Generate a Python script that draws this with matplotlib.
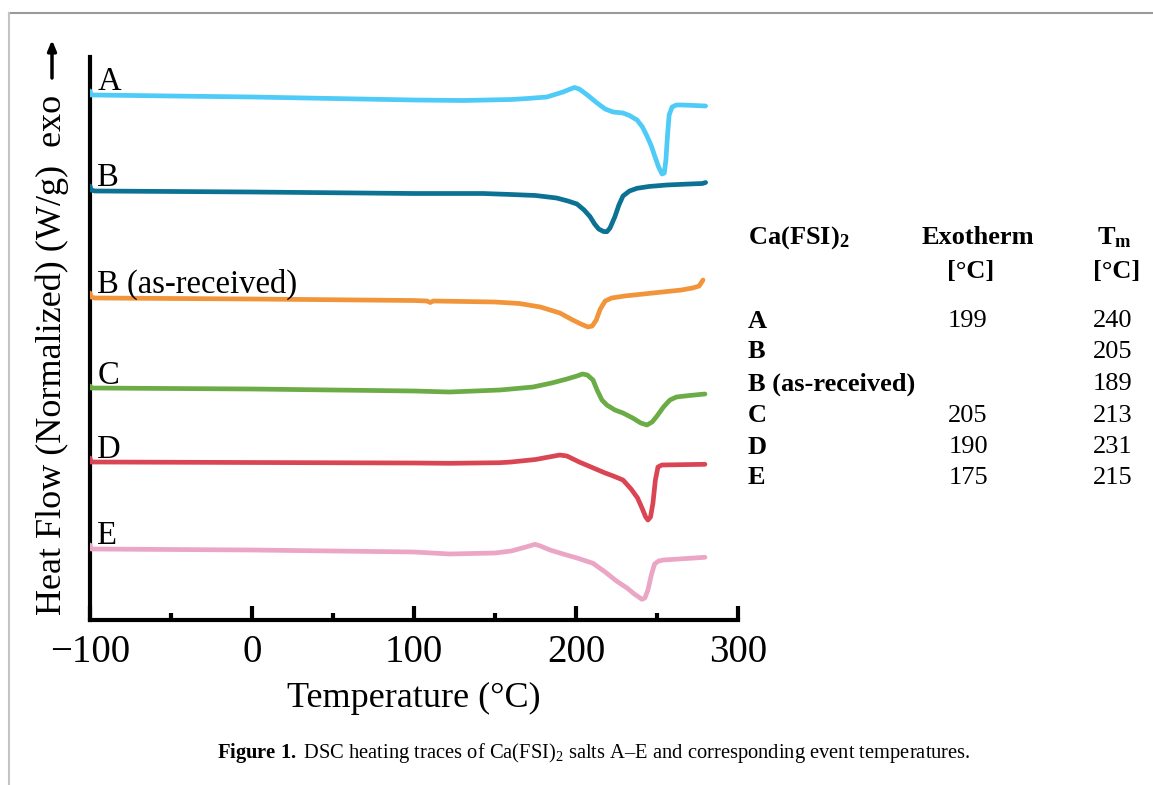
import numpy as np
import matplotlib
matplotlib.use("Agg")
import matplotlib.pyplot as plt
from matplotlib.lines import Line2D
from matplotlib.ticker import MultipleLocator

# ---------------- data ----------------
# Temperatures (°C) and normalized heat flow (stacked, arbitrary units)
A_T = [-100, -99.3, -97, -50, 0, 50, 100, 130, 160, 170, 182, 186, 192, 195, 199, 202,
       207, 213, 218, 222.8, 226, 229, 233, 237.7, 241, 243.8, 246.5, 248.8, 251, 253.1,
       254.5, 255.5, 256.5, 257.5, 259.3, 262, 266, 280]
A_Y = [5.29, 5.25, 5.25, 5.24, 5.23, 5.215, 5.20, 5.195, 5.205, 5.215, 5.23, 5.25, 5.28,
       5.30, 5.325, 5.31, 5.25, 5.17, 5.11, 5.08, 5.075, 5.07, 5.045, 5.00, 4.93, 4.84,
       4.74, 4.63, 4.53, 4.46, 4.47, 4.60, 4.85, 5.05, 5.13, 5.15, 5.15, 5.14]

B_T = [-100, -99.3, -97, 0, 100, 142.6, 160, 175, 188, 195, 200.6, 205, 208.6, 211.5,
       214, 217, 219.1, 221, 224, 226.5, 229, 233, 237.7, 245, 256, 270, 278, 280]
B_Y = [4.34, 4.30, 4.29, 4.28, 4.265, 4.265, 4.255, 4.245, 4.22, 4.19, 4.16, 4.10, 4.035,
       3.96, 3.91, 3.885, 3.883, 3.92, 4.033, 4.15, 4.24, 4.29, 4.317, 4.335, 4.35, 4.36,
       4.365, 4.375]

BR_T = [-100, -99.3, -97, 0, 100, 108, 110, 112, 150, 165, 178, 190, 198, 203, 207.4,
        210, 212.5, 215, 218, 222, 230, 247.5, 265, 272, 276, 278.4]
BR_Y = [3.27, 3.23, 3.22, 3.21, 3.195, 3.19, 3.175, 3.19, 3.18, 3.165, 3.13, 3.07, 3.00,
        2.96, 2.93, 2.94, 3.00, 3.11, 3.19, 3.22, 3.24, 3.27, 3.30, 3.32, 3.34, 3.40]

C_T = [-100, -99.3, 0, 100, 122, 153, 160, 173.5, 185, 194.4, 200.6, 204, 207, 210.5,
       213, 216, 219, 224, 229, 235, 240, 243.8, 247, 250, 254, 258, 262, 270, 279.6]
C_Y = [2.34, 2.32, 2.31, 2.29, 2.28, 2.30, 2.31, 2.33, 2.37, 2.41, 2.44, 2.46, 2.45,
       2.40, 2.30, 2.20, 2.15, 2.10, 2.07, 2.02, 1.97, 1.95, 1.98, 2.04, 2.13, 2.20, 2.23,
       2.245, 2.26]

D_T = [-100, -99.3, 0, 100, 122, 153, 160, 175, 185, 190, 194.4, 202, 210, 218, 223,
       229, 234, 238, 241, 243, 244.4, 246, 247.5, 249, 250.6, 253, 279.6]
D_Y = [1.62, 1.58, 1.575, 1.57, 1.567, 1.573, 1.58, 1.605, 1.635, 1.65, 1.64, 1.58,
       1.525, 1.47, 1.44, 1.40, 1.31, 1.22, 1.11, 1.03, 1.00, 1.03, 1.17, 1.40, 1.53,
       1.55, 1.557]

E_T = [-100, -99.3, 0, 100, 122, 150, 160, 168, 174.7, 178, 184, 192, 200.6, 210.5, 218,
       225, 231.5, 236, 240.7, 242.5, 244.4, 246.5, 248.5, 251, 254, 279.6]
E_Y = [0.75, 0.71, 0.70, 0.68, 0.66, 0.67, 0.69, 0.725, 0.757, 0.74, 0.70, 0.66, 0.62,
       0.567, 0.48, 0.39, 0.32, 0.26, 0.207, 0.22, 0.30, 0.45, 0.56, 0.59, 0.60, 0.627]

curve_names = ["A", "B", "B (as-received)", "C", "D", "E"]
curve_T = [A_T, B_T, BR_T, C_T, D_T, E_T]
curve_Y = [A_Y, B_Y, BR_Y, C_Y, D_Y, E_Y]
curve_colors = ["#4ECBF6", "#0B7294", "#F2953A", "#6BAC47", "#DA4553", "#EBA5C5"]

x_ticks = [-100, 0, 100, 200, 300]

table_samples = ["A", "B", "B (as-received)", "C", "D", "E"]
table_exotherm = ["199", "", "", "205", "190", "175"]
table_tm = ["240", "205", "189", "213", "231", "215"]

# ---------------- style ----------------
plt.rcParams["font.family"] = ["Liberation Serif", "DejaVu Serif"]
plt.rcParams["mathtext.fontset"] = "custom"
plt.rcParams["mathtext.rm"] = "Liberation Serif"
plt.rcParams["mathtext.it"] = "Liberation Serif:italic"
plt.rcParams["mathtext.bf"] = "Liberation Serif:bold"

W, H = 1153, 785
fig = plt.figure(figsize=(W / 100, H / 100), dpi=100)


def fx(px):
    return px / W


def fy(py):
    return 1 - py / H


ax = fig.add_axes([fx(90), fy(620), fx(738) - fx(90), fy(57) - fy(620)])

for name, T, Y, c in zip(curve_names, curve_T, curve_Y, curve_colors):
    ax.plot(T, Y, color=c, lw=3.4, solid_joinstyle="round", solid_capstyle="round",
            zorder=3)
    ax.text(-95.5, Y[1] + 0.045, name, fontsize=23.5, ha="left", va="baseline",
            color="black")

ax.set_xlim(-100, 300)
ax.set_ylim(0, 5.63)
ax.set_xticks(x_ticks)
ax.set_xticklabels(["\u2212100", "0", "100", "200", "300"])
ax.xaxis.set_minor_locator(MultipleLocator(50))
ax.set_yticks([])
for s in ["top", "right"]:
    ax.spines[s].set_visible(False)
for s in ["left", "bottom"]:
    ax.spines[s].set_linewidth(3)
ax.tick_params(axis="x", which="major", direction="in", length=10, width=3,
               labelsize=28, pad=10)
ax.tick_params(axis="x", which="minor", direction="in", length=5, width=3)
ax.set_xlabel("Temperature (°C)", fontsize=26, labelpad=8)

fig.text(fx(52), fy(355), "Heat Flow (Normalized) (W/g)  exo", rotation=90,
         fontsize=26, ha="center", va="center")
ax.annotate("", xy=(fx(52), fy(40)), xytext=(fx(52), fy(78)),
            xycoords="figure fraction", textcoords="figure fraction",
            arrowprops=dict(arrowstyle="-|>,head_length=0.6,head_width=0.25",
                            lw=2.5, color="black", shrinkA=0, shrinkB=0))

# ---------------- table ----------------
tfs = 19
fig.text(fx(748), fy(238), r"Ca(FSI)$_\mathbf{2}$", fontsize=tfs, fontweight="bold",
         ha="left", va="center")
fig.text(fx(978), fy(238), "Exotherm", fontsize=tfs, fontweight="bold",
         ha="center", va="center")
fig.text(fx(971), fy(272), "[°C]", fontsize=tfs, fontweight="bold",
         ha="center", va="center")
fig.text(fx(1114), fy(238), r"T$_\mathbf{m}$", fontsize=tfs, fontweight="bold",
         ha="center", va="center")
fig.text(fx(1117), fy(272), "[°C]", fontsize=tfs, fontweight="bold",
         ha="center", va="center")
row_y = [321, 352, 384, 416, 447, 478]
for ry, s, e, t in zip(row_y, table_samples, table_exotherm, table_tm):
    fig.text(fx(748), fy(ry), s, fontsize=tfs, fontweight="bold", ha="left", va="center")
    if e:
        fig.text(fx(968), fy(ry), e, fontsize=tfs, ha="center", va="center")
    fig.text(fx(1113), fy(ry), t, fontsize=tfs, ha="center", va="center")

# ---------------- caption ----------------
caption = (r"$\mathbf{Figure\ 1.}$DSC heating traces of Ca(FSI)$_2$ salts A" + "\u2013"
           + "E and corresponding event temperatures.")
fig.text(fx(594), fy(753), caption.replace("$DSC", "$ DSC"), fontsize=14.8,
         ha="center", va="center")

# ---------------- page border lines ----------------
fig.add_artist(Line2D([fx(9), 1], [fy(13), fy(13)], transform=fig.transFigure,
                      color="#9a9a9a", lw=1.5))
fig.add_artist(Line2D([fx(9), fx(9)], [fy(13), 0], transform=fig.transFigure,
                      color="#c4c4c4", lw=1.5))

fig.savefig("out.png", dpi=100)
